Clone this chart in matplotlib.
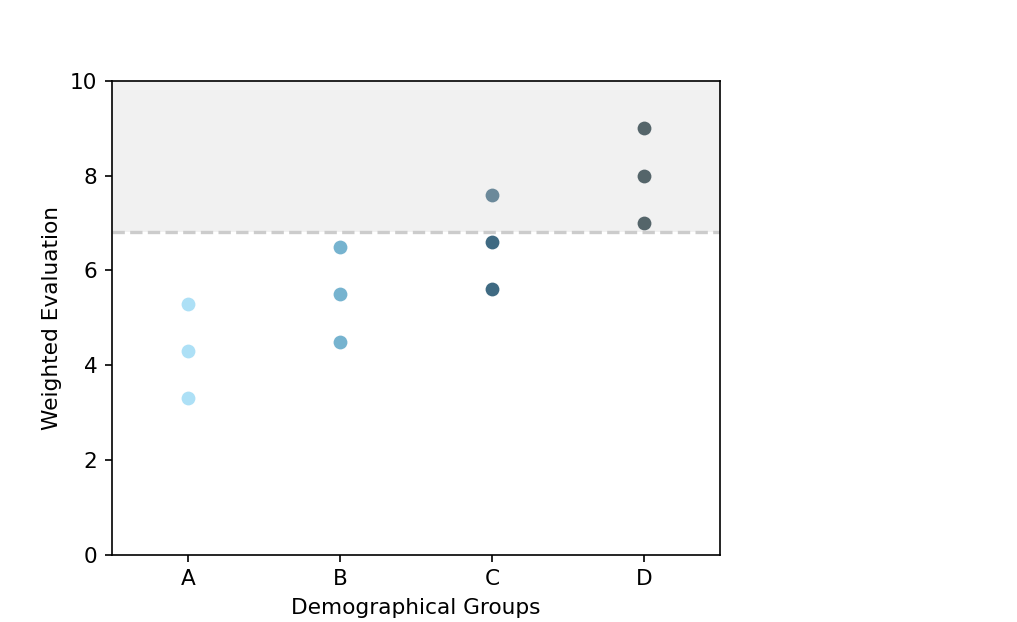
import numpy as np
import matplotlib
matplotlib.use("Agg")
import matplotlib.pyplot as plt

# data
groups = ["A", "B", "C", "D"]
scores_a = [3.3, 4.3, 5.3]
scores_b = [4.5, 5.5, 6.5]
scores_c = [5.6, 6.6, 7.6]
scores_d = [7.0, 8.0, 9.0]
threshold = 6.8

colors = ["#ade0f6", "#76b3cf", "#3f6a82", "#20363e"]

plt.rcParams["font.size"] = 10.4

fig = plt.figure(figsize=(6.78, 4.147), dpi=150)
ax = fig.add_subplot(111)
fig.subplots_adjust(left=0.110, right=0.708, top=0.870, bottom=0.108)

all_scores = [scores_a, scores_b, scores_c, scores_d]
for i, vals in enumerate(all_scores):
    ax.scatter([i] * len(vals), vals, color=colors[i], s=44, linewidths=0)

ax.axhline(threshold, color="#cccccc", linestyle="--", linewidth=1.6)
ax.axhspan(threshold, 10, color="lightgray", alpha=0.3, linewidth=0)

ax.set_xticks(range(len(groups)))
ax.set_xticklabels(groups)
ax.set_xlim(-0.5, 3.5)
ax.set_ylim(0, 10)
ax.set_xlabel("Demographical Groups")
ax.set_ylabel("Weighted Evaluation")

fig.savefig("out.png", dpi=150)
